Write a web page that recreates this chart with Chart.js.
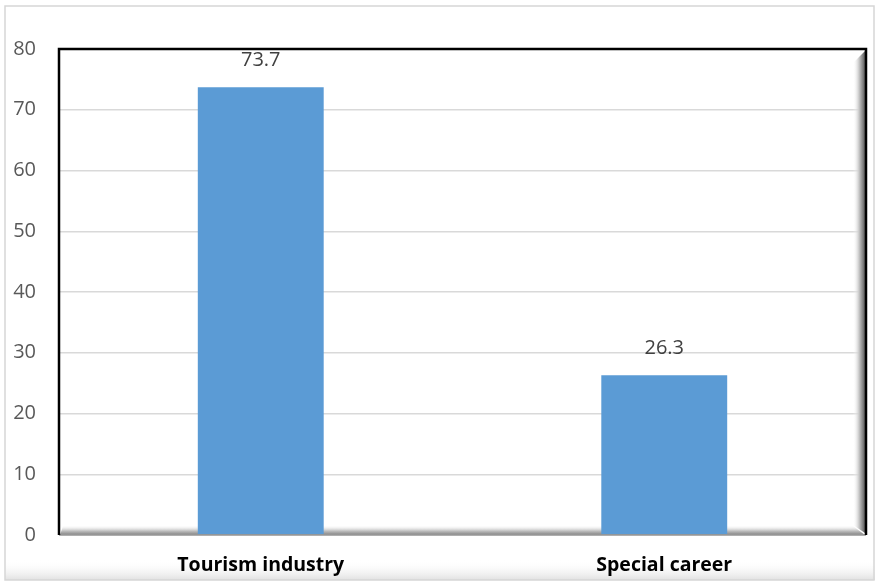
<!DOCTYPE html>
<html>
<head>
<meta charset="utf-8">
<script src="https://cdn.jsdelivr.net/npm/chart.js@4.4.1/dist/chart.umd.min.js"></script>
<style>
  body { margin: 0; background: #fff; }
  #wrap { width: 877px; height: 582px; }
</style>
</head>
<body>
<div id="wrap"><canvas id="myChart" width="877" height="582"></canvas></div>
<script>
const categories = ['Tourism industry', 'Special career'];
const percentValues = [73.7, 26.3];
const yTicks = [0, 10, 20, 30, 40, 50, 60, 70, 80];

const ctx = document.getElementById('myChart');
const fontFamily = "'Open Sans', Lato, sans-serif";

// outer frame, shaded wall on the right and floor at the bottom, black border
const framePlugin = {
    id: 'frame',
    beforeDraw(chart) {
        const c = chart.ctx;
        c.save();
        c.fillStyle = '#fff';
        c.fillRect(0, 0, chart.width, chart.height);
        let g = c.createLinearGradient(0, 560, 0, 580);
        g.addColorStop(0, 'rgba(255,255,255,0)');
        g.addColorStop(1, 'rgba(225,225,225,1)');
        c.fillStyle = g;
        c.fillRect(5, 560, 870, 20);
        c.strokeStyle = '#d6d6d6';
        c.lineWidth = 1.5;
        c.strokeRect(5, 6, 869, 574);
        c.restore();
    },
    beforeDatasetsDraw(chart) {
        const a = chart.chartArea;
        const c = chart.ctx;
        c.save();
        // right wall
        let g = c.createLinearGradient(a.right - 13, 0, a.right - 1, 0);
        g.addColorStop(0, 'rgba(255,255,255,0)');
        g.addColorStop(0.5, 'rgba(200,200,200,1)');
        g.addColorStop(1, 'rgba(90,90,90,1)');
        c.fillStyle = g;
        c.beginPath();
        c.moveTo(a.right - 13, a.top + 14);
        c.lineTo(a.right - 1, a.top + 2);
        c.lineTo(a.right - 1, a.bottom - 2);
        c.lineTo(a.right - 13, a.bottom - 10);
        c.closePath();
        c.fill();
        // floor
        g = c.createLinearGradient(0, a.bottom - 10, 0, a.bottom);
        g.addColorStop(0, 'rgba(255,255,255,0)');
        g.addColorStop(0.6, 'rgba(190,190,190,1)');
        g.addColorStop(1, 'rgba(130,130,130,1)');
        c.fillStyle = g;
        c.beginPath();
        c.moveTo(a.left + 4, a.bottom - 9);
        c.lineTo(a.right - 13, a.bottom - 9);
        c.lineTo(a.right - 1, a.bottom);
        c.lineTo(a.left + 1, a.bottom);
        c.closePath();
        c.fill();
        c.restore();
    },
    afterDatasetsDraw(chart) {
        const a = chart.chartArea;
        const c = chart.ctx;
        c.save();
        c.strokeStyle = '#9a9a9a';
        c.lineWidth = 1.5;
        c.beginPath();
        c.moveTo(a.left, a.bottom);
        c.lineTo(a.right, a.bottom);
        c.stroke();
        c.strokeStyle = '#000';
        c.lineWidth = 2.5;
        c.beginPath();
        c.moveTo(a.left, a.bottom);
        c.lineTo(a.left, a.top);
        c.lineTo(a.right, a.top);
        c.lineTo(a.right, a.bottom);
        c.stroke();

        // value labels above the bars
        const meta = chart.getDatasetMeta(0);
        c.fillStyle = '#404040';
        c.font = '20px ' + fontFamily;
        c.textAlign = 'center';
        c.textBaseline = 'middle';
        meta.data.forEach((bar, i) => {
            c.fillText(chart.data.datasets[0].data[i].toFixed(1), bar.x, bar.y - 27);
        });
        c.restore();
    }
};

new Chart(ctx, {
    type: 'bar',
    data: {
        labels: categories,
        datasets: [{
            data: percentValues,
            backgroundColor: '#5B9BD5',
            borderWidth: 0,
            categoryPercentage: 1,
            barPercentage: 0.312
        }]
    },
    options: {
        responsive: false,
        animation: false,
        layout: { padding: { top: 49, right: 11, left: 0, bottom: 0 } },
        plugins: { legend: { display: false }, tooltip: { enabled: false } },
        scales: {
            x: {
                grid: { display: false, drawTicks: false },
                border: { display: false },
                ticks: {
                    padding: 19,
                    color: '#000',
                    font: { family: fontFamily, size: 19.5, weight: 'bold' }
                },
                afterFit(s) { s.height = 47; }
            },
            y: {
                min: 0,
                max: 80,
                afterBuildTicks(s) { s.ticks = yTicks.map(v => ({ value: v })); },
                grid: { color: '#d9d9d9', lineWidth: 1.5, drawTicks: false },
                border: { display: false },
                ticks: {
                    padding: 23,
                    color: '#595959',
                    font: { family: fontFamily, size: 20 }
                },
                afterFit(s) { s.width = 59; }
            }
        }
    },
    plugins: [framePlugin]
});
</script>
</body>
</html>
